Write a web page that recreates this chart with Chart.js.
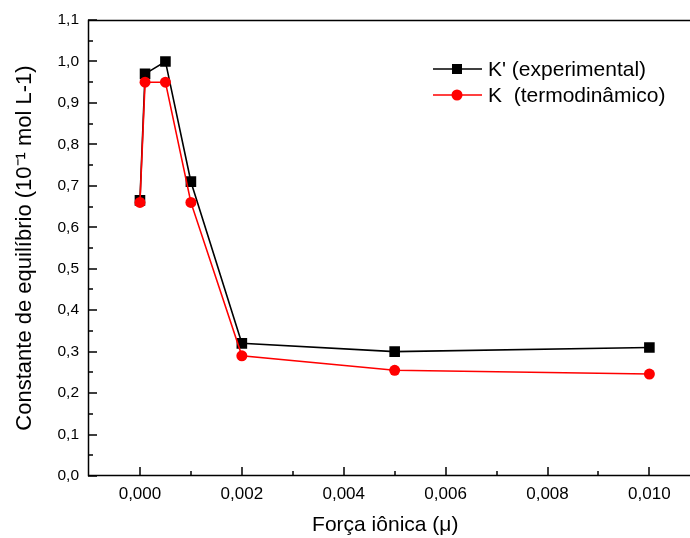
<!DOCTYPE html>
<html><head><meta charset="utf-8">
<script src="https://cdn.jsdelivr.net/npm/chart.js@4/dist/chart.umd.min.js"></script>
<style>html,body{margin:0;padding:0;background:#fff}#wrap{width:690px;height:538px}</style>
</head><body><div id="wrap"><canvas id="c" width="690" height="538"></canvas></div>
<script>
const xValues = [0, 0.0001, 0.0005, 0.001, 0.002, 0.005, 0.010];
const kExperimental = [0.665, 0.97, 1.00, 0.71, 0.32, 0.30, 0.31];
const kTermodinamico = [0.66, 0.95, 0.95, 0.66, 0.29, 0.255, 0.246];
const seriesNames = ["K' (experimental)", "K  (termodinâmico)"];
const xMajorTicks = [0, 0.002, 0.004, 0.006, 0.008, 0.010];
const xMinorTicks = [-0.001, 0.001, 0.003, 0.005, 0.007, 0.009];
const yMajorTicks = [0, 0.1, 0.2, 0.3, 0.4, 0.5, 0.6, 0.7, 0.8, 0.9, 1.0, 1.1];
const yMinorTicks = [0.05, 0.15, 0.25, 0.35, 0.45, 0.55, 0.65, 0.75, 0.85, 0.95, 1.05];

const FONT = "'Liberation Sans', Arial, sans-serif";

const framePlugin = {
  id: 'frame',
  afterDatasetsDraw(chart) {
    const ctx = chart.ctx, a = chart.chartArea;
    const xs = chart.scales.x, ys = chart.scales.y;
    ctx.save();
    ctx.strokeStyle = '#000';
    ctx.lineWidth = 1.5;
    ctx.beginPath();
    ctx.moveTo(chart.width, a.top + 0.5);
    ctx.lineTo(a.left + 0.5, a.top + 0.5);
    ctx.lineTo(a.left + 0.5, a.bottom - 0.5);
    ctx.lineTo(chart.width, a.bottom - 0.5);
    ctx.stroke();
    ctx.beginPath();
    xMajorTicks.forEach(v => { const p = Math.round(xs.getPixelForValue(v)); ctx.moveTo(p, a.bottom); ctx.lineTo(p, a.bottom - 9); });
    xMinorTicks.forEach(v => { const p = Math.round(xs.getPixelForValue(v)); if (p > a.left + 2) { ctx.moveTo(p, a.bottom); ctx.lineTo(p, a.bottom - 5); } });
    yMajorTicks.forEach(v => { const p = Math.round(ys.getPixelForValue(v)); ctx.moveTo(a.left, p); ctx.lineTo(a.left + 9, p); });
    yMinorTicks.forEach(v => { const p = Math.round(ys.getPixelForValue(v)); ctx.moveTo(a.left, p); ctx.lineTo(a.left + 5, p); });
    ctx.stroke();
    // legend
    const items = [
      {name: seriesNames[0], color: '#000', style: 'rect', y: 69},
      {name: seriesNames[1], color: '#ff0000', style: 'circle', y: 95}
    ];
    items.forEach(it => {
      ctx.strokeStyle = it.color; ctx.fillStyle = it.color; ctx.lineWidth = 1.5;
      ctx.beginPath(); ctx.moveTo(433, it.y); ctx.lineTo(482, it.y); ctx.stroke();
      if (it.style === 'rect') { ctx.fillRect(452, it.y - 5, 10, 10); }
      else { ctx.beginPath(); ctx.arc(457, it.y, 5.5, 0, Math.PI * 2); ctx.fill(); }
      ctx.fillStyle = '#000'; ctx.font = '21px ' + FONT; ctx.textBaseline = 'middle'; ctx.textAlign = 'left';
      ctx.fillText(it.name, 488, it.y + 1);
    });
    ctx.restore();
  }
};

const fmt = (v, d) => v.toFixed(d).replace('.', ',');

new Chart(document.getElementById('c'), {
  type: 'line',
  data: {
    datasets: [
      { label: seriesNames[0], data: xValues.map((x, i) => ({x, y: kExperimental[i]})), borderColor: '#000', backgroundColor: '#000',
        borderWidth: 1.6, pointStyle: 'rect', pointRadius: 7.5, pointHoverRadius: 7.5, pointBorderWidth: 0, order: 1, tension: 0 },
      { label: seriesNames[1], data: xValues.map((x, i) => ({x, y: kTermodinamico[i]})), borderColor: '#ff0000', backgroundColor: '#ff0000',
        borderWidth: 1.6, pointStyle: 'circle', pointRadius: 5.5, pointHoverRadius: 5.5, pointBorderWidth: 0, order: 0, tension: 0 }
    ]
  },
  options: {
    responsive: false, animation: false, devicePixelRatio: 1,
    layout: { padding: { top: 20, right: 0, left: 0, bottom: 0 } },
    plugins: { legend: { display: false }, tooltip: { enabled: false } },
    scales: {
      x: {
        type: 'linear', min: -0.00102, max: 0.01065,
        afterBuildTicks: s => { s.ticks = xMajorTicks.map(v => ({value: v})); },
        afterFit: s => { s.height = 62; },
        grid: { display: false, drawTicks: false },
        border: { display: false },
        ticks: { color: '#000', font: { family: FONT, size: 17 }, padding: 8, maxRotation: 0, callback: v => fmt(v, 3) },
        title: { display: true, text: 'Força iônica (μ)', color: '#000', font: { family: FONT, size: 21 }, padding: { top: 2, bottom: 0 } }
      },
      y: {
        type: 'linear', min: 0, max: 1.1,
        afterBuildTicks: s => { s.ticks = yMajorTicks.map(v => ({value: v})); },
        afterFit: s => { s.width = 88; },
        grid: { display: false, drawTicks: false },
        border: { display: false },
        ticks: { color: '#000', font: { family: FONT, size: 15.5 }, padding: 9, callback: v => fmt(v, 1) },
        title: { display: true, text: 'Constante de equilíbrio (10⁻¹ mol L-1)', color: '#000', font: { family: FONT, size: 22 }, padding: { top: 12, bottom: 4 } }
      }
    }
  },
  plugins: [framePlugin]
});
</script></body></html>
